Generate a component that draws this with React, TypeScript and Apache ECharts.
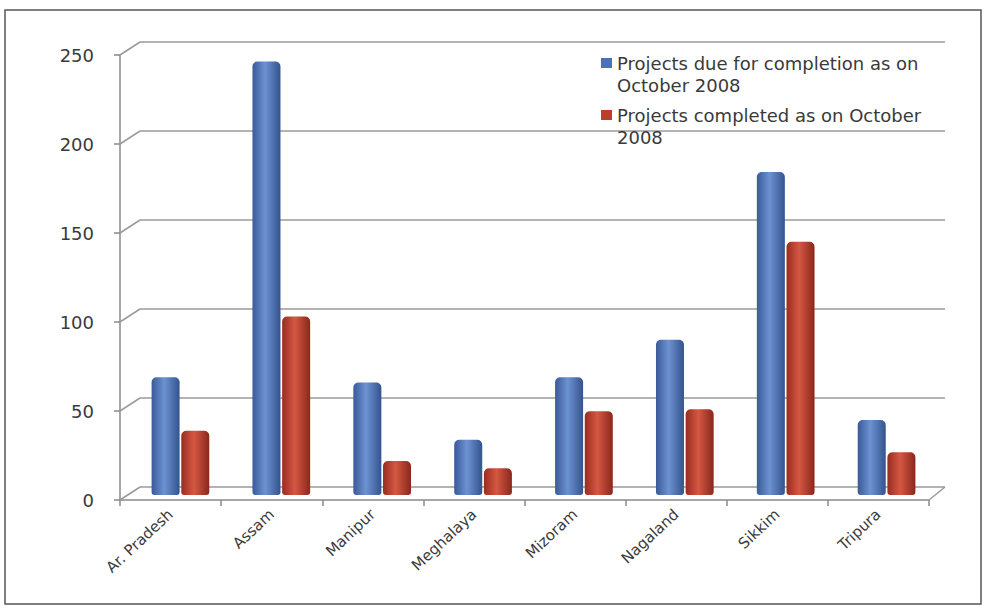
import React, { useEffect, useRef } from "react";
import * as echarts from "echarts";

const categories = ["Ar. Pradesh", "Assam", "Manipur", "Meghalaya", "Mizoram", "Nagaland", "Sikkim", "Tripura"];
const dueValues = [66, 243, 63, 31, 66, 87, 181, 42];
const completedValues = [36, 100, 19, 15, 47, 48, 142, 24];
const yTicks = [0, 50, 100, 150, 200, 250];
const seriesNames = [
  "Projects due for completion as on\nOctober 2008",
  "Projects completed as on October\n2008",
];

const FONT = "'DejaVu Sans', 'Open Sans', sans-serif";

export default function App() {
  const ref = useRef<HTMLDivElement>(null);
  useEffect(() => {
    if (!ref.current) return;
    const chart = echarts.init(ref.current, undefined, { renderer: "svg" });
    const blueGrad = new echarts.graphic.LinearGradient(0, 0, 1, 0, [
      { offset: 0, color: "#3a5a98" },
      { offset: 0.45, color: "#6d92d2" },
      { offset: 1, color: "#34538e" },
    ]);
    const redGrad = new echarts.graphic.LinearGradient(0, 0, 1, 0, [
      { offset: 0, color: "#982c20" },
      { offset: 0.45, color: "#d45842" },
      { offset: 1, color: "#8a271c" },
    ]);
    const icon = "path://M0,6H11V16H0Z M0,0L0.01,0 M0,44L0.01,44";
    chart.setOption({
      animation: false,
      backgroundColor: "#ffffff",
      textStyle: { fontFamily: FONT },
      graphic: [
        {
          type: "rect",
          shape: { x: 5, y: 10, width: 976, height: 594 },
          style: { fill: "none", stroke: "#555", lineWidth: 1.5 },
          silent: true,
          z: -10,
        },
      ],
      legend: {
        orient: "vertical",
        left: 596,
        top: 47,
        itemWidth: 11,
        itemHeight: 44,
        itemGap: 8,
        icon,
        textStyle: { fontFamily: FONT, fontSize: 18, color: "#3a3a3a", lineHeight: 22 },
        data: [
          { name: seriesNames[0], itemStyle: { color: "#4a72b8" } },
          { name: seriesNames[1], itemStyle: { color: "#bf3d2d" } },
        ],
      },
      grid: [
        { left: 140, right: 41, top: 42, bottom: 122 },
        { left: 120, right: 57, top: 55, bottom: 109 },
        { left: 130, right: 49, top: 49, bottom: 114 },
      ],
      xAxis: [
        { gridIndex: 0, type: "category", data: categories, show: false },
        {
          gridIndex: 1,
          type: "category",
          data: categories,
          axisLine: { show: true, lineStyle: { color: "#8a8a8a", width: 1.5 } },
          axisTick: { show: true, length: 6, lineStyle: { color: "#8a8a8a", width: 1.5 } },
          axisLabel: { rotate: 43, margin: 12, fontSize: 15, color: "#3a3a3a", fontFamily: FONT },
        },
        { gridIndex: 2, type: "category", data: categories, show: false },
      ],
      yAxis: [
        {
          gridIndex: 0,
          type: "value",
          min: 0,
          max: 250,
          interval: 50,
          axisLine: { show: false },
          axisTick: { show: false },
          axisLabel: { show: false },
          splitLine: { show: true, lineStyle: { color: "#9a9a9a", width: 1.5 } },
        },
        {
          gridIndex: 1,
          type: "value",
          min: 0,
          max: 250,
          interval: 50,
          axisLine: { show: true, lineStyle: { color: "#8a8a8a", width: 1.5 } },
          axisTick: { show: true, length: 6, lineStyle: { color: "#8a8a8a", width: 1.5 } },
          axisLabel: { margin: 26, fontSize: 18, color: "#3a3a3a", fontFamily: FONT },
          splitLine: { show: false },
        },
        { gridIndex: 2, type: "value", min: 0, max: 250, interval: 50, show: false, splitLine: { show: false } },
      ],
      series: [
        {
          type: "custom",
          xAxisIndex: 1,
          yAxisIndex: 1,
          silent: true,
          data: yTicks.map((v) => [0, v]),
          renderItem: (params: any, api: any) => {
            const cs = params.coordSys;
            const y = api.coord([0, api.value(1)])[1];
            const children: any[] = [
              {
                type: "line",
                shape: { x1: cs.x, y1: y, x2: cs.x + 20, y2: y - 13 },
                style: { stroke: "#9a9a9a", lineWidth: 1.5 },
              },
            ];
            if (api.value(1) === 0) {
              children.push({
                type: "line",
                shape: { x1: cs.x + cs.width, y1: y, x2: cs.x + cs.width + 16, y2: y - 13 },
                style: { stroke: "#9a9a9a", lineWidth: 1.5 },
              });
            }
            return { type: "group", children };
          },
          z: 1,
        },
        {
          name: seriesNames[0],
          type: "bar",
          xAxisIndex: 2,
          yAxisIndex: 2,
          data: dueValues,
          barWidth: 28,
          barGap: "6%",
          itemStyle: { color: blueGrad, borderRadius: [5, 5, 3, 3] },
          z: 3,
        },
        {
          name: seriesNames[1],
          type: "bar",
          xAxisIndex: 2,
          yAxisIndex: 2,
          data: completedValues,
          barWidth: 28,
          barGap: "6%",
          itemStyle: { color: redGrad, borderRadius: [5, 5, 3, 3] },
          z: 3,
        },
      ],
    });
    return () => chart.dispose();
  }, []);
  return <div ref={ref} style={{ position: "fixed", left: 0, top: 0, width: 986, height: 609 }} />;
}
